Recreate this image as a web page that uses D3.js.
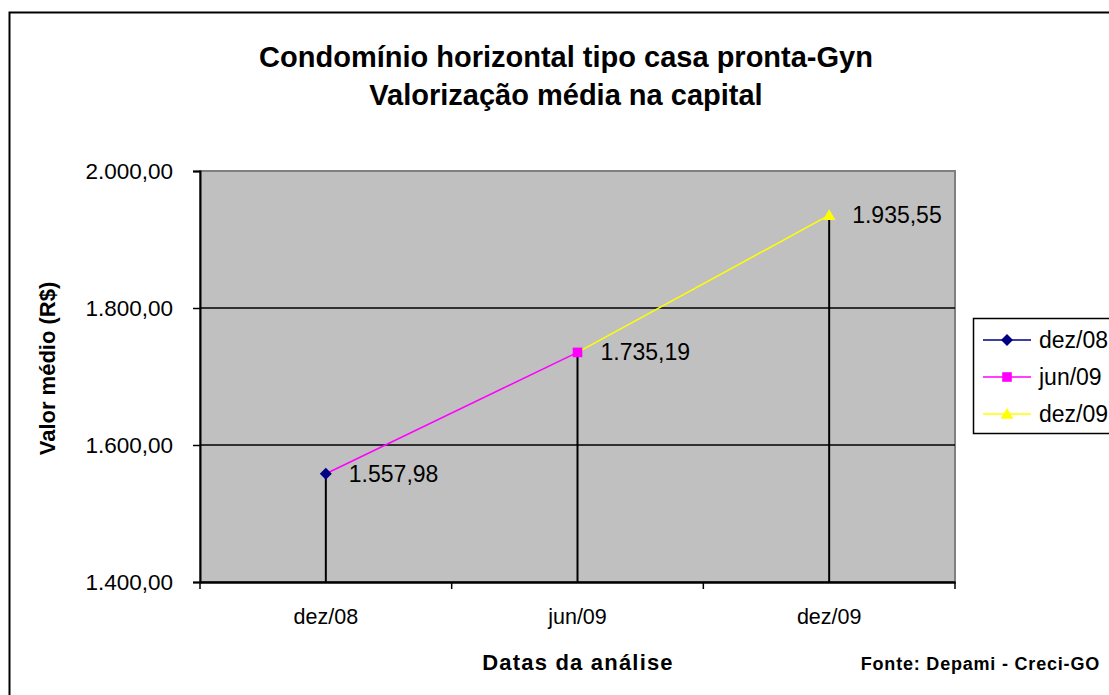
<!DOCTYPE html>
<html>
<head>
<meta charset="utf-8">
<script src="https://cdn.jsdelivr.net/npm/d3@7"></script>
<style>
  body { margin: 0; background: #fff; }
  svg { display: block; font-family: "Liberation Sans", Arial, sans-serif; }
</style>
</head>
<body>
<svg id="chart" width="1109" height="695"></svg>
<script>
// data
var categories = ["dez/08", "jun/09", "dez/09"];
var values = [1557.98, 1735.19, 1935.55];
var seriesColors = ["#000080", "#ff00ff", "#ffff00"];
var seriesShapes = ["diamond", "square", "triangle"];
var yTicks = [1400, 1600, 1800, 2000];

var svg = d3.select("#chart");

// outer frame (goes off the right / bottom edge)
svg.append("rect")
    .attr("x", 9.5).attr("y", 12.5)
    .attr("width", 1120).attr("height", 700)
    .attr("fill", "#fff")
    .attr("stroke", "#000").attr("stroke-width", 2);

var plot = {left: 200, right: 955, top: 171, bottom: 582};

var x = d3.scaleBand().domain(categories).range([plot.left, plot.right]);
var y = d3.scaleLinear().domain([1400, 2000]).range([plot.bottom, plot.top]);

var fmt = function(v){
    // brazilian format 1.557,98
    var s = d3.format(",.2f")(v);
    return s.replace(/,/g, "#").replace(".", ",").replace(/#/g, ".");
};

// plot background
svg.append("rect")
    .attr("x", plot.left).attr("y", plot.top)
    .attr("width", plot.right - plot.left).attr("height", plot.bottom - plot.top)
    .attr("fill", "#c0c0c0")
    .attr("stroke", "#808080").attr("stroke-width", 2);

// gridlines
svg.append("g").selectAll("line")
    .data(yTicks.slice(1, -1))
    .join("line")
    .attr("x1", plot.left).attr("x2", plot.right)
    .attr("y1", function(d){ return y(d); }).attr("y2", function(d){ return y(d); })
    .attr("stroke", "#000").attr("stroke-width", 1.5);

// y axis
var yAxis = svg.append("g")
    .attr("transform", "translate(" + plot.left + ",0)")
    .call(d3.axisLeft(y).tickValues(yTicks).tickSize(7).tickPadding(20).tickFormat(fmt));
yAxis.select(".domain").attr("stroke", "#000").attr("stroke-width", 2);
yAxis.selectAll(".tick line").attr("stroke", "#000").attr("stroke-width", 1.5);
yAxis.selectAll("text").attr("font-size", 22.5).attr("fill", "#000")
    .attr("font-family", "Liberation Sans, Arial, sans-serif");

// x axis
var xAxis = svg.append("g")
    .attr("transform", "translate(0," + plot.bottom + ")")
    .call(d3.axisBottom(x).tickSize(0).tickPadding(27));
xAxis.select(".domain").attr("stroke", "#000").attr("stroke-width", 2.5);
xAxis.selectAll("text").attr("font-size", 21.5).attr("fill", "#000")
    .attr("font-family", "Liberation Sans, Arial, sans-serif");
// category boundary ticks
var bounds = categories.map(function(c){ return x(c); }).concat([plot.right]);
svg.append("g").selectAll("line")
    .data(bounds)
    .join("line")
    .attr("x1", function(d){ return d; }).attr("x2", function(d){ return d; })
    .attr("y1", plot.bottom).attr("y2", plot.bottom + 7)
    .attr("stroke", "#000").attr("stroke-width", 1.5);

var cx = function(i){ return x(categories[i]) + x.bandwidth() / 2; };

// drop lines
svg.append("g").selectAll("line")
    .data(values)
    .join("line")
    .attr("x1", function(d, i){ return cx(i); }).attr("x2", function(d, i){ return cx(i); })
    .attr("y1", function(d){ return y(d); }).attr("y2", plot.bottom)
    .attr("stroke", "#000").attr("stroke-width", 2);

// connecting segments, coloured by end point series
var segs = d3.range(1, values.length);
svg.append("g").selectAll("line")
    .data(segs)
    .join("line")
    .attr("x1", function(i){ return cx(i - 1); }).attr("y1", function(i){ return y(values[i - 1]); })
    .attr("x2", function(i){ return cx(i); }).attr("y2", function(i){ return y(values[i]); })
    .attr("stroke", function(i){ return seriesColors[i]; })
    .attr("stroke-width", 1.5);

function markerPath(shape, s){
    if(shape == "diamond") return "M0," + (-s) + "L" + s + ",0L0," + s + "L" + (-s) + ",0Z";
    if(shape == "square") return "M" + (-s*0.8) + "," + (-s*0.8) + "h" + (s*1.6) + "v" + (s*1.6) + "h" + (-s*1.6) + "Z";
    return "M0," + (-s) + "L" + (s*1.05) + "," + (s*0.8) + "L" + (-s*1.05) + "," + (s*0.8) + "Z";
}

// markers
svg.append("g").selectAll("path")
    .data(values)
    .join("path")
    .attr("transform", function(d, i){ return "translate(" + cx(i) + "," + y(d) + ")"; })
    .attr("d", function(d, i){ return markerPath(seriesShapes[i], 6); })
    .attr("fill", function(d, i){ return seriesColors[i]; });

// value labels
svg.append("g").selectAll("text")
    .data(values)
    .join("text")
    .attr("x", function(d, i){ return cx(i) + 23; })
    .attr("y", function(d){ return y(d) + 8; })
    .attr("font-size", 23)
    .attr("fill", "#000")
    .text(fmt);

// titles
svg.append("text")
    .attr("x", 566).attr("y", 67)
    .attr("text-anchor", "middle")
    .attr("font-size", 29).attr("font-weight", "bold")
    .text("Condomínio horizontal tipo casa pronta-Gyn");
svg.append("text")
    .attr("x", 566).attr("y", 105)
    .attr("text-anchor", "middle")
    .attr("font-size", 29).attr("font-weight", "bold")
    .text("Valorização média na capital");

svg.append("text")
    .attr("transform", "translate(55," + ((plot.top + plot.bottom) / 2 - 8) + ") rotate(-90)")
    .attr("text-anchor", "middle")
    .attr("font-size", 22).attr("font-weight", "bold")
    .text("Valor médio (R$)");

svg.append("text")
    .attr("x", 578).attr("y", 670)
    .attr("text-anchor", "middle")
    .attr("font-size", 22).attr("font-weight", "bold")
    .attr("letter-spacing", 1.2)
    .text("Datas da análise");

svg.append("text")
    .attr("x", 1100).attr("y", 670)
    .attr("text-anchor", "end")
    .attr("font-size", 18).attr("font-weight", "bold")
    .attr("letter-spacing", 0.8)
    .text("Fonte: Depami - Creci-GO");

// legend
var legend = svg.append("g");
legend.append("rect")
    .attr("x", 973.5).attr("y", 318.5)
    .attr("width", 160).attr("height", 115)
    .attr("fill", "#fff").attr("stroke", "#000").attr("stroke-width", 1.5);
var items = legend.selectAll("g")
    .data(categories)
    .join("g")
    .attr("transform", function(d, i){ return "translate(983," + (340 + i * 37) + ")"; });
items.append("line")
    .attr("x1", 0).attr("x2", 48)
    .attr("stroke", function(d, i){ return seriesColors[i]; })
    .attr("stroke-width", 1.5);
items.append("path")
    .attr("transform", "translate(24,0)")
    .attr("d", function(d, i){ return markerPath(seriesShapes[i], 6); })
    .attr("fill", function(d, i){ return seriesColors[i]; });
items.append("text")
    .attr("x", 56).attr("y", 8)
    .attr("font-size", 23)
    .text(function(d){ return d; });
</script>
</body>
</html>
